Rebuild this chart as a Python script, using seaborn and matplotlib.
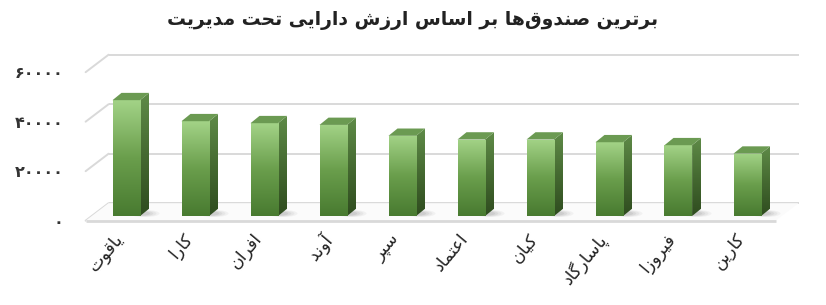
import numpy as np
import pandas as pd
import matplotlib
matplotlib.use("Agg")
import matplotlib.pyplot as plt
import seaborn as sns
from matplotlib.patches import Polygon, Ellipse
from matplotlib import transforms as mtrans
from matplotlib.colors import LinearSegmentedColormap

# ---------------- data ----------------
categories = ["یاقوت", "کارا", "افران", "آوند", "سپر", "اعتماد", "کیان", "پاسارگاد", "فیروزا", "کارین"]
values = [46800, 38300, 37500, 36800, 32400, 30900, 30900, 29800, 28600, 25200]
y_ticks = [0, 20000, 40000, 60000]
title = "برترین صندوق‌ها بر اساس ارزش دارایی تحت مدیریت"

# ---------------- simple Persian shaping (matplotlib has no bidi/shaping) ----------------
FORMS = {  # isolated, final, initial, medial (None => right-joining only)
    "ا": ("\uFE8D", "\uFE8E", None, None),
    "آ": ("\uFE81", "\uFE82", None, None),
    "ب": ("\uFE8F", "\uFE90", "\uFE91", "\uFE92"),
    "پ": ("\uFB56", "\uFB57", "\uFB58", "\uFB59"),
    "ت": ("\uFE95", "\uFE96", "\uFE97", "\uFE98"),
    "ح": ("\uFEA1", "\uFEA2", "\uFEA3", "\uFEA4"),
    "د": ("\uFEA9", "\uFEAA", None, None),
    "ر": ("\uFEAD", "\uFEAE", None, None),
    "ز": ("\uFEAF", "\uFEB0", None, None),
    "س": ("\uFEB1", "\uFEB2", "\uFEB3", "\uFEB4"),
    "ش": ("\uFEB5", "\uFEB6", "\uFEB7", "\uFEB8"),
    "ص": ("\uFEB9", "\uFEBA", "\uFEBB", "\uFEBC"),
    "ع": ("\uFEC9", "\uFECA", "\uFECB", "\uFECC"),
    "ف": ("\uFED1", "\uFED2", "\uFED3", "\uFED4"),
    "ق": ("\uFED5", "\uFED6", "\uFED7", "\uFED8"),
    "ک": ("\uFB8E", "\uFB8F", "\uFB90", "\uFB91"),
    "گ": ("\uFB92", "\uFB93", "\uFB94", "\uFB95"),
    "م": ("\uFEE1", "\uFEE2", "\uFEE3", "\uFEE4"),
    "ن": ("\uFEE5", "\uFEE6", "\uFEE7", "\uFEE8"),
    "ه": ("\uFEE9", "\uFEEA", "\uFEEB", "\uFEEC"),
    "و": ("\uFEED", "\uFEEE", None, None),
    "ی": ("\uFBFC", "\uFBFD", "\uFBFE", "\uFBFF"),
}


def shape(text):
    chars = list(text)
    out = []
    for i, c in enumerate(chars):
        if c not in FORMS:
            if c != "\u200c":
                out.append(c)
            continue
        prev = chars[i - 1] if i > 0 else None
        nxt = chars[i + 1] if i + 1 < len(chars) else None
        joins_prev = prev in FORMS and FORMS[prev][2] is not None
        joins_next = FORMS[c][2] is not None and nxt in FORMS
        iso, fin, ini, med = FORMS[c]
        if joins_prev and joins_next:
            out.append(med)
        elif joins_prev:
            out.append(fin)
        elif joins_next:
            out.append(ini)
        else:
            out.append(iso)
    return "".join(reversed(out))


def fa_digits(n):
    return "".join("۰۱۲۳۴۵۶۷۸۹"[int(d)] for d in str(n))


# ---------------- figure ----------------
sns.set_theme(style="white")
plt.rcParams["font.family"] = ["DejaVu Sans"]

W, H = 826, 305
fig = plt.figure(figsize=(W / 100, H / 100), dpi=100)
fig.patch.set_facecolor("white")
ax_l, ax_b, ax_w, ax_h = 91.8, 89.0, 690.0, 148.5
ax = fig.add_axes([ax_l / W, ax_b / H, ax_w / W, ax_h / H])

df = pd.DataFrame({"fund": [shape(c) for c in categories], "value": values})
sns.barplot(data=df, x="fund", y="value", width=0.4, color="#6c9f4f",
            saturation=1, ax=ax, zorder=3, edgecolor="none")

XMIN, XMAX, YMIN, YMAX = -0.5, 9.5, 0, 60000
ax.set_xlim(XMIN, XMAX)
ax.set_ylim(YMIN, YMAX)
ux = (XMAX - XMIN) / ax_w     # data units per pixel
uy = (YMAX - YMIN) / ax_h

# depth offsets in pixels (front plane / back wall relative to bar plane)
FDX, FDY = -6.2, -4.7
BDX, BDY = 16.8, 12.8
SDX, SDY = 9.0, 7.3          # bar depth

grid_c = "#d9d9d9"
# back wall gridlines + left side-wall diagonals
for v in y_ticks:
    ax.plot([XMIN + BDX * ux, XMAX + BDX * ux], [v + BDY * uy] * 2, color=grid_c,
            lw=1.4, zorder=0, clip_on=False, solid_capstyle="butt")
    ax.plot([XMIN + FDX * ux, XMIN + BDX * ux], [v + FDY * uy, v + BDY * uy],
            color=grid_c, lw=1.4, zorder=0, clip_on=False)
# floor
floor = Polygon([[XMIN + FDX * ux, FDY * uy], [XMAX + FDX * ux, FDY * uy],
                 [XMAX + BDX * ux, BDY * uy], [XMIN + BDX * ux, BDY * uy]],
                closed=True, facecolor="#fbfbfb", edgecolor="none", zorder=0, clip_on=False)
ax.add_patch(floor)
ax.plot([XMIN + FDX * ux, XMAX + FDX * ux], [FDY * uy] * 2, color=grid_c, lw=2.0,
        zorder=1, clip_on=False, solid_capstyle="butt")

front_cmap = LinearSegmentedColormap.from_list("front", ["#487a30", "#6a9e4c", "#a3d387"])
side_cmap = LinearSegmentedColormap.from_list("side", ["#2f4c1f", "#456a31", "#5f8b48"])
grad = np.linspace(0, 1, 256).reshape(-1, 1)

bars = [p for p in ax.patches][:len(values)]
for p in bars:
    x0 = p.get_x()
    x1 = x0 + p.get_width()
    h = p.get_height()
    # floor shadow
    for k, a in zip(range(4), [0.10, 0.12, 0.15, 0.2]):
        ax.add_patch(Ellipse((x1 + (4 - k) * 0.6 * ux + 2 * ux, 2.5 * uy),
                             width=(30 - 5 * k) * ux, height=(7 - k) * uy,
                             facecolor="#9a9a9a", alpha=a, edgecolor="none", zorder=1,
                             clip_on=False))
    # front face gradient
    im = ax.imshow(grad, extent=[x0, x1, 0, h], origin="lower", cmap=front_cmap,
                   aspect="auto", zorder=3.1, interpolation="bilinear")
    im.set_clip_path(p)
    # side face
    side = Polygon([[x1, 0], [x1, h], [x1 + SDX * ux, h + SDY * uy], [x1 + SDX * ux, SDY * uy]],
                   closed=True, facecolor="none", edgecolor="none", zorder=2.9)
    ax.add_patch(side)
    ims = ax.imshow(grad, extent=[x1, x1 + SDX * ux, 0, h + SDY * uy], origin="lower",
                    cmap=side_cmap, aspect="auto", zorder=2.9, interpolation="bilinear")
    ims.set_clip_path(side)
    # cap
    ax.add_patch(Polygon([[x0, h], [x1, h], [x1 + SDX * ux, h + SDY * uy],
                          [x0 + SDX * ux, h + SDY * uy]], closed=True,
                         facecolor="#6b9a52", edgecolor="none", zorder=3.2))

ax.set_xlim(XMIN, XMAX)
ax.set_ylim(YMIN, YMAX)

for s in ax.spines.values():
    s.set_visible(False)
ax.set_xlabel("")
ax.set_ylabel("")
ax.grid(False)

# y tick labels (on the front plane)
ax.set_yticks(y_ticks)
ax.set_yticklabels([fa_digits(v) for v in y_ticks], fontsize=11.5, fontweight="bold",
                   color="#333333")
ax.tick_params(axis="y", length=0, pad=16)
yoff = mtrans.ScaledTranslation(FDX / 100, FDY / 100, fig.dpi_scale_trans)
for lab in ax.get_yticklabels():
    lab.set_transform(lab.get_transform() + yoff)

# x tick labels
ax.tick_params(axis="x", length=0, pad=10)
ax.set_xticks(range(len(categories)))
ax.set_xticklabels([shape(c) for c in categories], rotation=50, ha="right",
                   va="top", rotation_mode="anchor", fontsize=12.5, color="#222222")
xoff = mtrans.ScaledTranslation(-13 / 100, 0, fig.dpi_scale_trans)
for lab in ax.get_xticklabels():
    lab.set_transform(lab.get_transform() + xoff)

fig.text(0.5, 1 - 21 / H, shape(title), ha="center", va="center", fontsize=13.5,
         fontweight="bold", color="#222222")

fig.savefig("out.png", dpi=100, facecolor="white")
